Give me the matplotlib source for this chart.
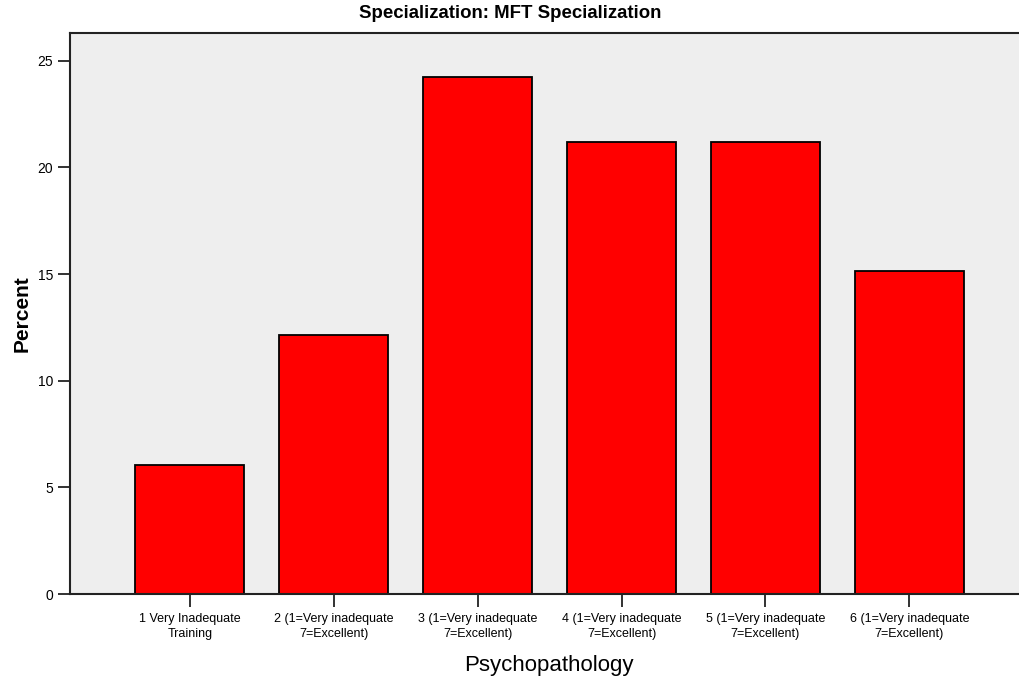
import matplotlib
matplotlib.use("Agg")
from matplotlib import pyplot as plt
from matplotlib import font_manager

categories = [
    "1 Very Inadequate\nTraining",
    "2 (1=Very inadequate\n7=Excellent)",
    "3 (1=Very inadequate\n7=Excellent)",
    "4 (1=Very inadequate\n7=Excellent)",
    "5 (1=Very inadequate\n7=Excellent)",
    "6 (1=Very inadequate\n7=Excellent)",
]
percent = [6.06, 12.12, 24.24, 21.21, 21.21, 15.15]
y_ticks = [0, 5, 10, 15, 20, 25]

names = {f.name for f in font_manager.fontManager.ttflist}
narrow = "Liberation Sans Narrow" if "Liberation Sans Narrow" in names else "Liberation Sans"

plt.rcParams["font.family"] = ["Liberation Sans", "DejaVu Sans"]

fig = plt.figure(figsize=(10.2, 6.83), dpi=100)
ax = fig.add_axes([0.0686, 0.1303, 0.94, 0.8214])
ax.set_facecolor("#eeeeee")

x = list(range(len(categories)))
ax.bar(x, percent, width=0.757, color="#ff0000", edgecolor="black", linewidth=1.3, zorder=2)

ax.set_xlim(-0.833, 5.83)
ax.set_ylim(0, 26.3)
ax.set_yticks(y_ticks)
ax.set_xticks(x)
ax.set_xticklabels(categories, fontsize=9.0, family=[narrow, "DejaVu Sans"], linespacing=1.3)
ax.tick_params(axis="both", direction="out", length=9, width=1.3, color="#222222")
ax.tick_params(axis="y", labelsize=10, pad=3)
ax.tick_params(axis="x", pad=5)

for s in ax.spines.values():
    s.set_linewidth(1.5)
    s.set_color("#222222")

ax.set_ylabel("Percent", fontsize=15, fontweight="bold", labelpad=4)
ax.set_xlabel("Psychopathology", fontsize=16, labelpad=11)
fig.suptitle("Specialization: MFT Specialization", fontsize=13.4, fontweight="bold", x=0.5, y=0.993)

plt.savefig("out.png", dpi=100)
